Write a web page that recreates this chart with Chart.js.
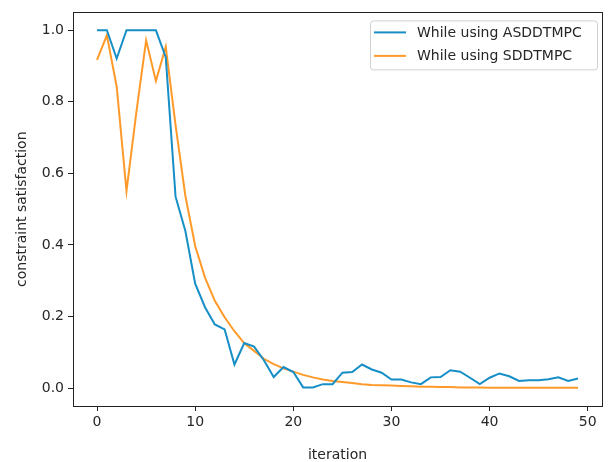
<!DOCTYPE html>
<html>
<head>
<meta charset="utf-8">
<script src="https://cdn.jsdelivr.net/npm/chart.js@4"></script>
<style>
  html, body { margin: 0; padding: 0; background: #fff; }
  #wrap { width: 609px; height: 462px; }
</style>
</head>
<body>
<div id="wrap"><canvas id="grafiek" width="609" height="462"></canvas></div>
<script>
"use strict";
// waarden
const asddtmpc = [1.0, 1.0, 0.921, 1.0, 1.0, 1.0, 1.0, 0.925, 0.535, 0.439,
    0.292, 0.226, 0.178, 0.164, 0.066, 0.126, 0.116, 0.078, 0.031, 0.059,
    0.045, 0.002, 0.002, 0.011, 0.011, 0.043, 0.045, 0.066, 0.052, 0.043,
    0.024, 0.024, 0.016, 0.011, 0.030, 0.031, 0.050, 0.046, 0.029, 0.011,
    0.029, 0.041, 0.033, 0.020, 0.022, 0.022, 0.025, 0.030, 0.020, 0.027];
const sddtmpc = [0.917, 0.986, 0.843, 0.551, 0.77, 0.972, 0.858, 0.954, 0.735, 0.537,
    0.397, 0.309, 0.244, 0.198, 0.159, 0.125, 0.104, 0.082, 0.067, 0.055,
    0.046, 0.037, 0.030, 0.024, 0.020, 0.017, 0.014, 0.011, 0.009, 0.008,
    0.007, 0.006, 0.005, 0.004, 0.004, 0.003, 0.003, 0.002, 0.002, 0.002,
    0.001, 0.001, 0.001, 0.001, 0.001, 0.001, 0.001, 0.001, 0.001, 0.001];
const seriesLabels = ['While using ASDDTMPC', 'While using SDDTMPC'];
const xTicks = [0, 10, 20, 30, 40, 50];
const yTicks = [0.0, 0.2, 0.4, 0.6, 0.8, 1.0];
const kleur = ['#168ec6', '#ff9a2a'];

const FONT = "'DejaVu Sans', sans-serif";
const tekst = '#262626';

// legenda binnen het plotvlak, zoals matplotlib
const legendInside = {
    id: 'legendInside',
    afterDatasetsDraw(chart) {
        const c = chart.ctx;
        const area = chart.chartArea;
        const right = area.right - 5, top = area.top + 8;
        const w = 227, h = 49;
        const left = right - w;
        c.save();
        c.fillStyle = 'rgba(255,255,255,0.85)';
        c.strokeStyle = '#d0d0d0';
        c.lineWidth = 1;
        c.beginPath();
        c.roundRect(left + 0.5, top + 0.5, w, h, 3);
        c.fill();
        c.stroke();
        c.font = '14px ' + FONT;
        c.textBaseline = 'middle';
        chart.data.datasets.forEach((ds, i) => {
            const y = top + 12 + i * 23.5;
            c.strokeStyle = ds.borderColor;
            c.lineWidth = 2;
            c.beginPath();
            c.moveTo(left + 4, y);
            c.lineTo(left + 36, y);
            c.stroke();
            c.fillStyle = tekst;
            c.fillText(ds.label, left + 47, y + 0.5);
        });
        c.restore();
    }
};

// volledige rand rond het plotvlak
const kader = {
    id: 'kader',
    afterDraw(chart) {
        const c = chart.ctx;
        const a = chart.chartArea;
        c.save();
        c.strokeStyle = '#222';
        c.lineWidth = 1;
        c.strokeRect(Math.round(a.left) + 0.5, Math.round(a.top) + 0.5,
            Math.round(a.right - a.left), Math.round(a.bottom - a.top));
        c.restore();
    }
};

const ctx = document.getElementById('grafiek');
const chart = new Chart(ctx, {
    type: 'line',
    data: {
        datasets: [asddtmpc, sddtmpc].map((reeks, i) => ({
            label: seriesLabels[i],
            data: reeks.map((v, x) => ({ x: x, y: v })),
            borderColor: kleur[i],
            backgroundColor: kleur[i],
            borderWidth: 2,
            pointRadius: 0,
            tension: 0,
            fill: false
        }))
    },
    options: {
        responsive: false,
        animation: false,
        layout: { padding: { left: 0, right: 7, top: 10, bottom: 0 } },
        plugins: {
            legend: { display: false },
            tooltip: { enabled: false }
        },
        scales: {
            x: {
                type: 'linear',
                min: -2.45,
                max: 51.45,
                afterBuildTicks: (s) => { s.ticks = xTicks.map(v => ({ value: v })); },
                afterFit: (s) => { s.height = 56; },
                grid: { display: true, drawOnChartArea: false, tickLength: 5, color: '#222', tickColor: '#222' },
                border: { display: false },
                ticks: { color: tekst, font: { family: FONT, size: 14 }, padding: 3, maxRotation: 0 },
                title: { display: true, text: 'iteration', color: tekst, font: { family: FONT, size: 14 }, padding: { top: 0, bottom: -2 } }
            },
            y: {
                min: -0.05,
                max: 1.05,
                afterBuildTicks: (s) => { s.ticks = yTicks.map(v => ({ value: v })); },
                afterFit: (s) => { s.width = 73; },
                grid: { display: true, drawOnChartArea: false, tickLength: 5, color: '#222', tickColor: '#222' },
                border: { display: false },
                ticks: { color: tekst, font: { family: FONT, size: 14 }, padding: 4, callback: (v) => Number(v).toFixed(1) },
                title: { display: true, text: 'constraint satisfaction', color: tekst, font: { family: FONT, size: 14 }, padding: { top: 14, bottom: 0 } }
            }
        }
    },
    plugins: [legendInside, kader]
});
</script>
</body>
</html>
